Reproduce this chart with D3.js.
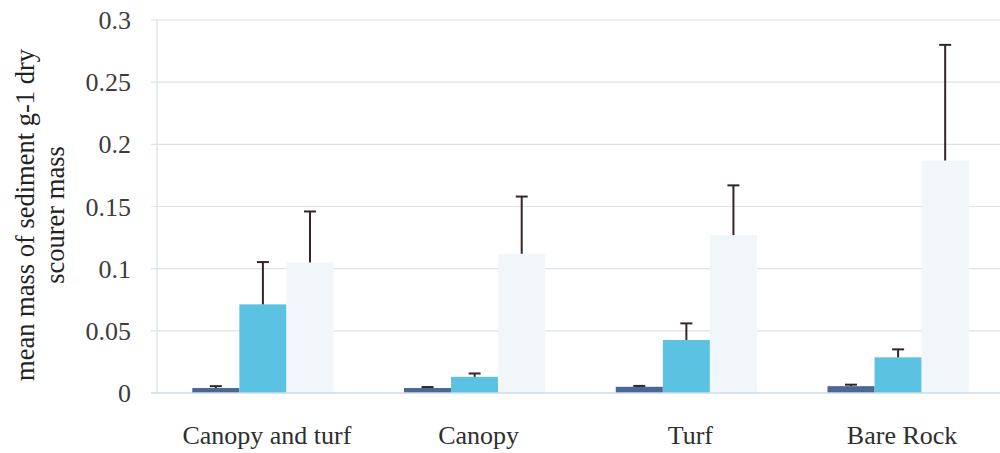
<!DOCTYPE html>
<html><head><meta charset="utf-8">
<script src="https://cdn.jsdelivr.net/npm/d3@7"></script>
<style>body{margin:0;background:#fff;overflow:hidden}svg{display:block}</style>
</head><body>
<svg id="c" width="1000" height="453"></svg>
<script>
const categories = ["Canopy and turf", "Canopy", "Turf", "Bare Rock"];
const seriesNames = ["s1", "s2", "s3"];
const seriesA = [0.004, 0.004, 0.005, 0.0055];
const seriesB = [0.0713, 0.013, 0.0426, 0.0287];
const seriesC = [0.105, 0.112, 0.127, 0.187];
const errA = [0.0015, 0.0008, 0.0007, 0.0012];
const errB = [0.034, 0.0027, 0.0134, 0.0064];
const errC = [0.041, 0.046, 0.040, 0.093];
const yTicks = [0, 0.05, 0.1, 0.15, 0.2, 0.25, 0.3];
const yTickLabels = ["0", "0.05", "0.1", "0.15", "0.2", "0.25", "0.3"];
const colors = ["#4b6794", "#5cc2e2", "#f1f6fa"];
const FONT = "Liberation Serif, Times New Roman, serif";

const svg = d3.select("#c");
const m = {left: 157, right: 1004, top: 20, bottom: 393};
const x = d3.scaleBand().domain(categories).range([m.left, m.right]).paddingInner(0.333).paddingOuter(0.1667);
const x1 = d3.scaleBand().domain(seriesNames).range([0, x.bandwidth()]);
const y = d3.scaleLinear().domain([0, 0.3]).range([m.bottom, m.top]);

svg.append("g").selectAll("line").data(yTicks.slice(1)).join("line")
  .attr("x1", m.left - 6).attr("x2", 1000).attr("y1", d => y(d)).attr("y2", d => y(d))
  .attr("stroke", "#dbe2e8").attr("stroke-width", 1.2);
svg.append("line").attr("x1", m.left).attr("x2", m.left).attr("y1", m.top).attr("y2", m.bottom)
  .attr("stroke", "#d8dfe6").attr("stroke-width", 1.2);
svg.append("g").selectAll("text").data(yTicks).join("text")
  .attr("x", 131).attr("y", d => y(d)).attr("dy", "0.35em").attr("text-anchor", "end")
  .attr("font-family", FONT).attr("font-size", 26).attr("fill", "#3c3c3c")
  .text((d, i) => yTickLabels[i]);

const series = [seriesA, seriesB, seriesC];
const errs = [errA, errB, errC];
series.forEach((vals, si) => {
  svg.append("g").selectAll("rect").data(vals).join("rect")
    .attr("x", (d, i) => x(categories[i]) + x1(seriesNames[si]))
    .attr("width", x1.bandwidth())
    .attr("y", d => y(d)).attr("height", d => y(0) - y(d))
    .attr("fill", colors[si]);
});
svg.append("line").attr("x1", m.left - 6).attr("x2", 1000).attr("y1", y(0)).attr("y2", y(0))
  .attr("stroke", "#cfdbe6").attr("stroke-width", 1.4);
series.forEach((vals, si) => {
  const g = svg.append("g");
  vals.forEach((v, i) => {
    const cx = x(categories[i]) + x1(seriesNames[si]) + x1.bandwidth() / 2;
    const top = y(v + errs[si][i]);
    g.append("line").attr("x1", cx).attr("x2", cx).attr("y1", y(v)).attr("y2", top)
      .attr("stroke", "#33262a").attr("stroke-width", 2);
    g.append("line").attr("x1", cx - 6).attr("x2", cx + 6).attr("y1", top).attr("y2", top)
      .attr("stroke", "#33262a").attr("stroke-width", 2);
  });
});
svg.append("g").selectAll("text").data(categories).join("text")
  .attr("x", d => x(d) + x.bandwidth() / 2 + 4).attr("y", 444).attr("text-anchor", "middle")
  .attr("font-family", FONT).attr("font-size", 26).attr("fill", "#2e2e2e")
  .text(d => d);
const t = svg.append("text").attr("transform", "rotate(-90)")
  .attr("font-family", FONT).attr("font-size", 26.5).attr("fill", "#222")
  .attr("text-anchor", "middle");
t.append("tspan").attr("x", -215).attr("y", 34).text("mean mass of sediment g-1 dry");
t.append("tspan").attr("x", -215).attr("y", 64).text("scourer mass");
</script>
</body></html>
